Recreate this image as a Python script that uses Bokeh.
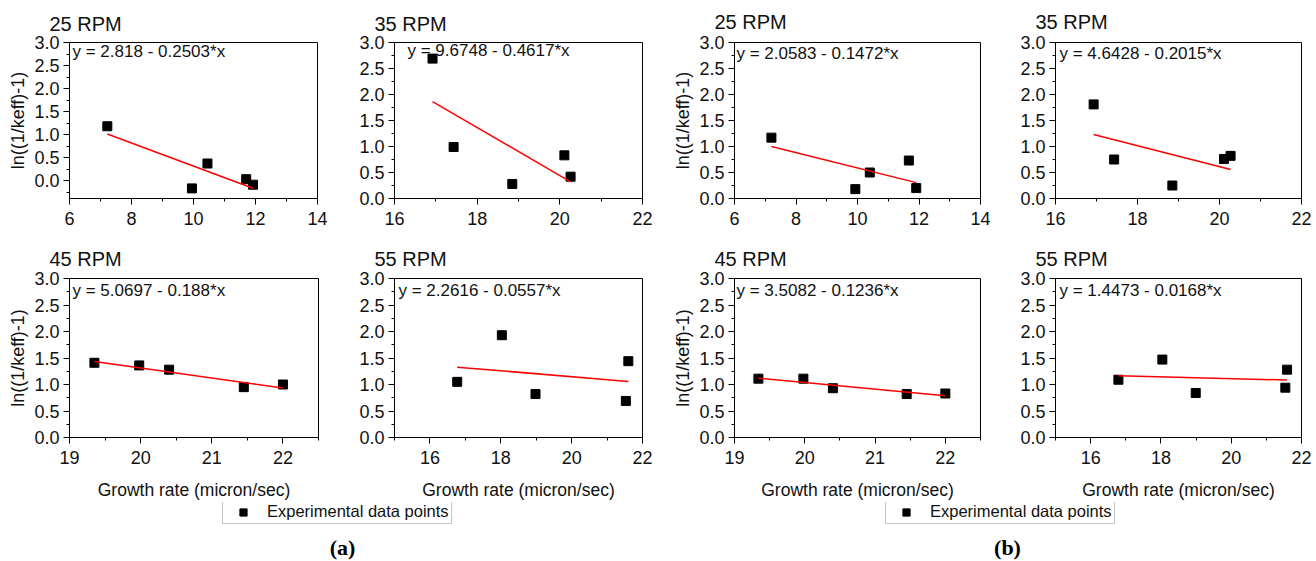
from bokeh.plotting import figure
from bokeh.layouts import column, row
from bokeh.models import Range1d, FixedTicker, NumeralTickFormatter, Label, Legend, LegendItem
from bokeh.embed import file_html
from bokeh.resources import INLINE

# ---------------- data ----------------
rpm_titles = ["25 RPM", "35 RPM", "45 RPM", "55 RPM"]
x_title = "Growth rate (micron/sec)"
y_title = "ln((1/keff)-1)"
legend_label = "Experimental data points"
group_labels = ["(a)", "(b)"]

# group (a)
a25_x = [7.22, 9.95, 10.45, 11.70, 11.92]
a25_y = [1.18, -0.17, 0.37, 0.03, -0.09]
a35_x = [16.92, 17.43, 18.85, 20.11, 20.26]
a35_y = [2.69, 0.99, 0.28, 0.83, 0.42]
a45_x = [19.35, 19.98, 20.40, 21.45, 22.00]
a45_y = [1.41, 1.36, 1.28, 0.95, 1.00]
a55_x = [16.77, 18.03, 18.98, 21.53, 21.60]
a55_y = [1.05, 1.93, 0.82, 0.69, 1.44]
a_intercepts = [2.818, 9.6748, 5.0697, 2.2616]
a_slopes = [-0.2503, -0.4617, -0.188, -0.0557]

# group (b)
b25_x = [7.20, 9.93, 10.40, 11.67, 11.91]
b25_y = [1.17, 0.18, 0.50, 0.73, 0.20]
b35_x = [16.93, 17.43, 18.85, 20.11, 20.27]
b35_y = [1.81, 0.75, 0.25, 0.76, 0.82]
b45_x = [19.34, 19.98, 20.40, 21.45, 22.00]
b45_y = [1.11, 1.11, 0.93, 0.82, 0.83]
b55_x = [16.79, 18.04, 18.99, 21.54, 21.59]
b55_y = [1.09, 1.47, 0.84, 0.94, 1.28]
b_intercepts = [2.0583, 4.6428, 3.5082, 1.4473]
b_slopes = [-0.1472, -0.2015, -0.1236, -0.0168]

# axis ranges and ticks
x_ranges = [(6, 14), (16, 22), (19, 22.5), (15, 22)]
x_major = [[6, 8, 10, 12, 14], [16, 18, 20, 22], [19, 20, 21, 22], [16, 18, 20, 22]]
x_minor = [[7, 9, 11, 13], [17, 19, 21], [19.5, 20.5, 21.5, 22.5], [15, 17, 19, 21]]
y_major = [0.0, 0.5, 1.0, 1.5, 2.0, 2.5, 3.0]
y_minor = [-0.25, 0.25, 0.75, 1.25, 1.75, 2.25, 2.75]
a25_y_range = (-0.39, 3.0)
std_y_range = (0.0, 3.0)

FONT = "Liberation Sans"
TXT = "#111111"


def eq_text(icpt, slope):
    sign = "-" if slope < 0 else "+"
    return f"y = {icpt} {sign} {abs(slope)}*x"


def make_panel(title, xs, ys, icpt, slope, xr, yr, xt, xm, width, height,
               bl, br, bt, bb, ylabel, xlabel, eq_dx, t_standoff):
    p = figure(width=width, height=height, x_range=Range1d(*xr), y_range=Range1d(*yr),
               toolbar_location=None, output_backend="svg",
               min_border_left=bl, min_border_right=br, min_border_top=bt, min_border_bottom=bb)
    p.grid.visible = False
    p.outline_line_color = "black"
    p.outline_line_width = 1
    p.background_fill_color = "white"
    p.border_fill_color = "white"

    p.title.text = title
    p.title.align = "left"
    p.title.vertical_align = "top"
    p.title.offset = -20
    p.title.standoff = t_standoff
    p.title.text_font = FONT
    p.title.text_font_size = "20px"
    p.title.text_font_style = "normal"
    p.title.text_color = TXT

    for ax in (p.xaxis[0], p.yaxis[0]):
        ax.axis_line_color = "black"
        ax.major_tick_line_color = "black"
        ax.minor_tick_line_color = "black"
        ax.major_tick_in = 0
        ax.major_tick_out = 6
        ax.minor_tick_in = 0
        ax.minor_tick_out = 3
        ax.major_label_text_font = FONT
        ax.major_label_text_font_size = "18px"
        ax.major_label_text_color = TXT
        ax.axis_label_text_font = FONT
        ax.axis_label_text_font_style = "normal"
        ax.axis_label_text_color = TXT
    p.yaxis.major_label_standoff = 4
    p.xaxis.major_label_standoff = 7

    p.xaxis.ticker = FixedTicker(ticks=xt, minor_ticks=xm)
    p.yaxis.ticker = FixedTicker(ticks=y_major, minor_ticks=y_minor)
    p.yaxis.formatter = NumeralTickFormatter(format="0.0")

    if ylabel:
        p.yaxis.axis_label = y_title
        p.yaxis.axis_label_text_font_size = "18px"
        p.yaxis.axis_label_standoff = 3
    if xlabel:
        p.xaxis.axis_label = x_title
        p.xaxis.axis_label_text_font_size = "17.5px"
        p.xaxis.axis_label_standoff = 13

    p.scatter(xs, ys, marker="square", size=9, color="black")
    x0, x1 = min(xs), max(xs)
    p.line([x0, x1], [icpt + slope * x0, icpt + slope * x1], line_color="#ff0000", line_width=1.5)

    fh = height - bt - bb
    p.add_layout(Label(x=eq_dx, y=fh - 13, x_units="screen", y_units="screen",
                       text=eq_text(icpt, slope),
                       text_font=FONT, text_font_size="17px", text_color=TXT,
                       text_baseline="middle", text_align="left"))
    return p


H1, H2, H3 = 232, 270, 59
TS1, TS2 = 12, 13

A25 = make_panel(rpm_titles[0], a25_x, a25_y, a_intercepts[0], a_slopes[0], x_ranges[0], a25_y_range,
                 x_major[0], x_minor[0], 330, H1, 69, 13, 38, 34, True, False, 3, TS1)
A35 = make_panel(rpm_titles[1], a35_x, a35_y, a_intercepts[1], a_slopes[1], x_ranges[1], std_y_range,
                 x_major[1], x_minor[1], 330, H1, 64, 18, 38, 33, False, False, 13, TS1)
B25 = make_panel(rpm_titles[0], b25_x, b25_y, b_intercepts[0], b_slopes[0], x_ranges[0], std_y_range,
                 x_major[0], x_minor[0], 330, H1, 74, 10, 42, 32, True, False, 2, TS1 + 4)
B35 = make_panel(rpm_titles[1], b35_x, b35_y, b_intercepts[1], b_slopes[1], x_ranges[1], std_y_range,
                 x_major[1], x_minor[1], 326, H1, 65, 15, 42, 32, False, False, 4, TS1 + 4)

A45 = make_panel(rpm_titles[2], a45_x, a45_y, a_intercepts[2], a_slopes[2], x_ranges[2], std_y_range,
                 x_major[2], x_minor[2], 330, H2, 69, 12, 46, 64, True, True, 3, TS2)
A55 = make_panel(rpm_titles[3], a55_x, a55_y, a_intercepts[3], a_slopes[3], x_ranges[3], std_y_range,
                 x_major[3], x_minor[3], 330, H2, 64, 18, 46, 64, False, True, 4, TS2)
B45 = make_panel(rpm_titles[2], b45_x, b45_y, b_intercepts[2], b_slopes[2], x_ranges[2], std_y_range,
                 x_major[2], x_minor[2], 330, H2, 74, 10, 46, 64, True, True, 2, TS2)
B55 = make_panel(rpm_titles[3], b55_x, b55_y, b_intercepts[3], b_slopes[3], x_ranges[3], std_y_range,
                 x_major[3], x_minor[3], 326, H2, 65, 15, 46, 64, False, True, 4, TS2)

# legend / caption strip
L = figure(width=1316, height=H3, x_range=Range1d(0, 1), y_range=Range1d(0, 1),
           toolbar_location=None, output_backend="svg", min_border=0,
           x_axis_location=None, y_axis_location=None)
L.grid.visible = False
L.outline_line_color = None
L.background_fill_color = "white"
L.border_fill_color = "white"
leg_r = L.scatter(a45_x, a45_y, marker="square", size=9, color="black")
leg_r.visible = False

for lx in (222, 885):
    lg = Legend(items=[LegendItem(label=legend_label, renderers=[leg_r])], location=(lx, 37),
                padding=2, margin=0, spacing=0, glyph_width=36, glyph_height=18, label_height=18,
                label_standoff=6, label_text_font=FONT, label_text_font_size="16.5px",
                label_text_color=TXT, border_line_color="#8c8c8c", border_line_width=1,
                background_fill_color="white", background_fill_alpha=1.0)
    L.add_layout(lg)

for gx, gl in zip((342, 1007), group_labels):
    L.add_layout(Label(x=gx, y=14, x_units="screen", y_units="screen", text=gl,
                       text_font="Liberation Serif", text_font_style="bold",
                       text_font_size="22px", text_color="black",
                       text_align="center", text_baseline="middle"))

layout = column(row(A25, A35, B25, B35), row(A45, A55, B45, B55), L)
open("out.html", "w").write(file_html(layout, INLINE))
